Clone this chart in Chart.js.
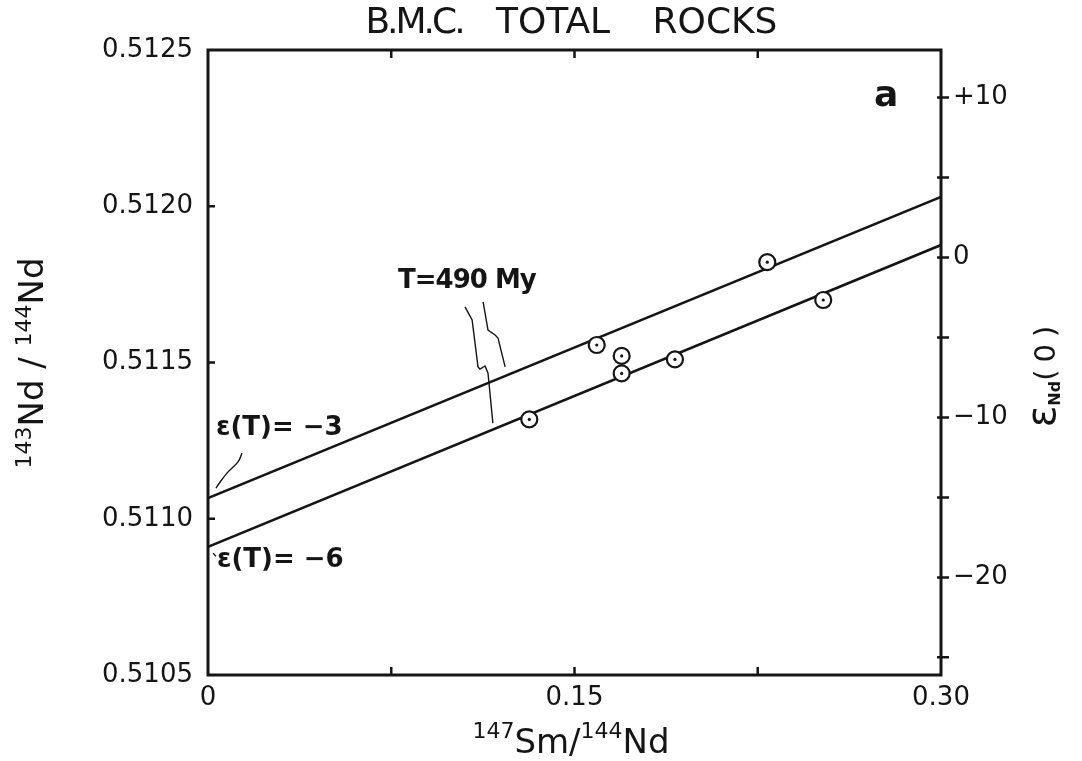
<!DOCTYPE html>
<html>
<head>
<meta charset="utf-8">
<script src="https://cdn.jsdelivr.net/npm/chart.js@4.4.1/dist/chart.umd.min.js"></script>
<style>
  html, body { margin: 0; background: #fff; }
</style>
</head>
<body>
<canvas id="chart" width="1082" height="761"></canvas>
<script>
/* Total-rock samples (147Sm/144Nd, 143Nd/144Nd) */
const smNd = [0.1315, 0.1591, 0.1693, 0.1693, 0.1911, 0.2289, 0.2518];
const ndNd = [0.511318, 0.511556, 0.511521, 0.511465, 0.511510, 0.511821, 0.511700];

/* 490 My reference lines, end points */
const refX = [0, 0.30];
const refUpper = [0.511066, 0.51203];   // e(T) = -3
const refLower = [0.51091, 0.511876];   // e(T) = -6

/* leader lines for the labels */
const leadAX = [0.1052, 0.1081, 0.1105, 0.1113, 0.1134, 0.1146, 0.1166];
const leadAY = [0.511678, 0.511636, 0.511486, 0.511479, 0.511489, 0.511466, 0.511306];
const leadBX = [0.1126, 0.1146, 0.1175, 0.1187, 0.1216];
const leadBY = [0.511694, 0.511604, 0.511588, 0.511578, 0.511486];
const curlX = [0.01392, 0.01228, 0.00778, 0.00409, 0.00327];
const curlY = [0.51121, 0.511182, 0.511146, 0.511108, 0.511098];
const nickX = [0.00205, 0.00327];
const nickY = [0.51089, 0.51088];

/* axes */
const xTicks = [0, 0.075, 0.15, 0.225, 0.30];
const xTickLabels = ["0", "", "0.15", "", "0.30"];
const yTicks = [0.5105, 0.5110, 0.5115, 0.5120, 0.5125];
const yTickLabels = ["0.5105", "0.5110", "0.5115", "0.5120", "0.5125"];
const epsTicks = [-25, -20, -15, -10, -5, 0, 5, 10];
const epsTickLabels = ["", "\u221220", "", "\u221210", "", "0", "", "+10"];
const CHUR = 0.511836;
const Y_MIN = 0.5105, Y_MAX = 0.5125;

/* text labels placed in data space */
const notes = [
  { text: "\u03b5(T)= \u22123", x: 0.00327, y: 0.51129 },
  { text: "\u03b5(T)= \u22126", x: 0.00368, y: 0.510868 },
  { text: "T=490 My", x: 0.0778, y: 0.511761 },
];
const panelTag = { text: "a", x: 0.2776, y: 0.51235 };

const INK = "#151515";
const FONT = "'DejaVu Sans'";

const pts = (xs, ys) => xs.map((x, i) => ({ x, y: ys[i] }));
const eps = (r) => (r / CHUR - 1) * 1e4;

const lineSet = (data, width, tension, order) => ({
  data, showLine: true, borderColor: INK, borderWidth: width,
  pointRadius: 0, tension, order
});

/* draws a run of [text, size, rise, weight, spacing] pieces from x, baseline at 0 */
function drawPieces(ctx, pieces, x0) {
  let x = x0;
  pieces.forEach(([t, size, rise, weight, spacing]) => {
    ctx.font = `${weight || "normal"} ${size}px ${FONT}`;
    ctx.letterSpacing = (spacing || 0) + "px";
    ctx.fillText(t, x, -rise);
    x += ctx.measureText(t).width;
  });
  ctx.letterSpacing = "0px";
  return x - x0;
}
function piecesWidth(ctx, pieces) {
  let w = 0;
  pieces.forEach(([t, size, rise, weight, spacing]) => {
    ctx.font = `${weight || "normal"} ${size}px ${FONT}`;
    ctx.letterSpacing = (spacing || 0) + "px";
    w += ctx.measureText(t).width;
  });
  ctx.letterSpacing = "0px";
  return w;
}

const decor = {
  id: "decor",
  afterDraw(chart) {
    const { ctx, chartArea: a, scales } = chart;
    const sx = scales.x, sy = scales.y, se = scales.y2;
    ctx.save();
    ctx.strokeStyle = INK;
    ctx.fillStyle = INK;

    /* frame */
    ctx.lineWidth = 3;
    ctx.strokeRect(a.left, a.top, a.right - a.left, a.bottom - a.top);

    /* tick marks */
    ctx.lineWidth = 2.5;
    ctx.beginPath();
    xTicks.slice(1, -1).forEach(v => {
      const px = sx.getPixelForValue(v);
      ctx.moveTo(px, a.bottom); ctx.lineTo(px, a.bottom - 8);
      ctx.moveTo(px, a.top); ctx.lineTo(px, a.top + 8);
    });
    yTicks.slice(1, -1).forEach(v => {
      const py = sy.getPixelForValue(v);
      ctx.moveTo(a.left, py); ctx.lineTo(a.left + 7, py);
    });
    epsTicks.forEach(v => {
      const py = se.getPixelForValue(v);
      ctx.moveTo(a.right - 4, py); ctx.lineTo(a.right + 8, py);
    });
    ctx.stroke();

    /* title */
    ctx.textBaseline = "middle";
    ctx.textAlign = "center";
    ctx.font = `36px ${FONT}`;
    ctx.letterSpacing = "-3px";
    ctx.fillText("B.M.C.", 414, 24);
    ctx.letterSpacing = "0px";
    ctx.fillText("TOTAL", 553, 24);
    ctx.fillText("ROCKS", 715, 24);

    /* notes */
    ctx.textAlign = "left";
    notes.forEach(n => {
      ctx.font = `bold 26px ${FONT}`;
      ctx.letterSpacing = n.text.startsWith("T") ? "-1px" : "0px";
      ctx.fillText(n.text, sx.getPixelForValue(n.x), sy.getPixelForValue(n.y));
    });
    ctx.letterSpacing = "0px";
    ctx.textAlign = "center";
    ctx.font = `bold 36px ${FONT}`;
    ctx.fillText(panelTag.text, sx.getPixelForValue(panelTag.x), sy.getPixelForValue(panelTag.y));

    /* axis titles */
    ctx.textAlign = "left";
    ctx.textBaseline = "alphabetic";
    const xt = [["147", 22, 15], ["Sm/", 34, 0], ["144", 22, 15], ["Nd", 34, 0]];
    ctx.save();
    ctx.translate(0, 753);
    drawPieces(ctx, xt, 571 - piecesWidth(ctx, xt) / 2);
    ctx.restore();

    const yt = [["143", 22, 12], ["Nd / ", 34, 0], ["144", 22, 12], ["Nd", 34, 0]];
    ctx.save();
    ctx.translate(43, 363);
    ctx.rotate(-Math.PI / 2);
    drawPieces(ctx, yt, -piecesWidth(ctx, yt) / 2);
    ctx.restore();

    const et = [["\u03b5", 40, 0], ["Nd", 16, -5, "bold"], ["(0)", 29, 0, "normal", 7]];
    ctx.save();
    ctx.translate(1055, 373);
    ctx.rotate(-Math.PI / 2);
    drawPieces(ctx, et, -piecesWidth(ctx, et) / 2);
    ctx.restore();

    ctx.restore();
  }
};

new Chart(document.getElementById("chart").getContext("2d"), {
  type: "scatter",
  data: {
    datasets: [
      { data: pts(smNd, ndNd), pointRadius: 1.6, pointBackgroundColor: INK, pointBorderWidth: 0, order: 0 },
      { data: pts(smNd, ndNd), pointRadius: 8, pointBackgroundColor: "#fff", pointBorderColor: INK, pointBorderWidth: 2.2, order: 1 },
      lineSet(pts(refX, refUpper), 2.6, 0, 2),
      lineSet(pts(refX, refLower), 2.6, 0, 2),
      lineSet(pts(leadAX, leadAY), 1.4, 0, 3),
      lineSet(pts(leadBX, leadBY), 1.4, 0, 3),
      lineSet(pts(curlX, curlY), 1.4, 0.4, 3),
      lineSet(pts(nickX, nickY), 1.4, 0, 3),
    ]
  },
  options: {
    responsive: false,
    animation: false,
    devicePixelRatio: 1,
    layout: { padding: { top: 50, left: 0, right: 0, bottom: 0 } },
    plugins: { legend: { display: false }, tooltip: { enabled: false } },
    scales: {
      x: {
        type: "linear", position: "bottom", min: 0, max: 0.30,
        afterBuildTicks: (s) => { s.ticks = xTicks.map(v => ({ value: v })); },
        afterFit: (s) => { s.height = 86; },
        grid: { display: false, drawTicks: false },
        border: { display: false },
        ticks: {
          color: INK, padding: 8, maxRotation: 0, autoSkip: false,
          font: { family: "DejaVu Sans", size: 26 },
          callback: (v, i) => xTickLabels[i]
        }
      },
      y: {
        type: "linear", position: "left", min: Y_MIN, max: Y_MAX,
        afterBuildTicks: (s) => { s.ticks = yTicks.map(v => ({ value: v })); },
        afterFit: (s) => { s.width = 208; },
        grid: { display: false, drawTicks: false },
        border: { display: false },
        ticks: {
          color: INK, padding: 15, autoSkip: false,
          font: { family: "DejaVu Sans", size: 26 },
          callback: (v, i) => yTickLabels[i]
        }
      },
      y2: {
        type: "linear", position: "right", display: true,
        min: eps(Y_MIN), max: eps(Y_MAX),
        afterBuildTicks: (s) => { s.ticks = epsTicks.map(v => ({ value: v })); },
        afterFit: (s) => { s.width = 141; },
        grid: { display: false, drawTicks: false },
        border: { display: false },
        ticks: {
          color: INK, padding: 12, autoSkip: false,
          font: { family: "DejaVu Sans", size: 26 },
          callback: (v, i) => epsTickLabels[i]
        }
      }
    }
  },
  plugins: [decor]
});
</script>
</body>
</html>
